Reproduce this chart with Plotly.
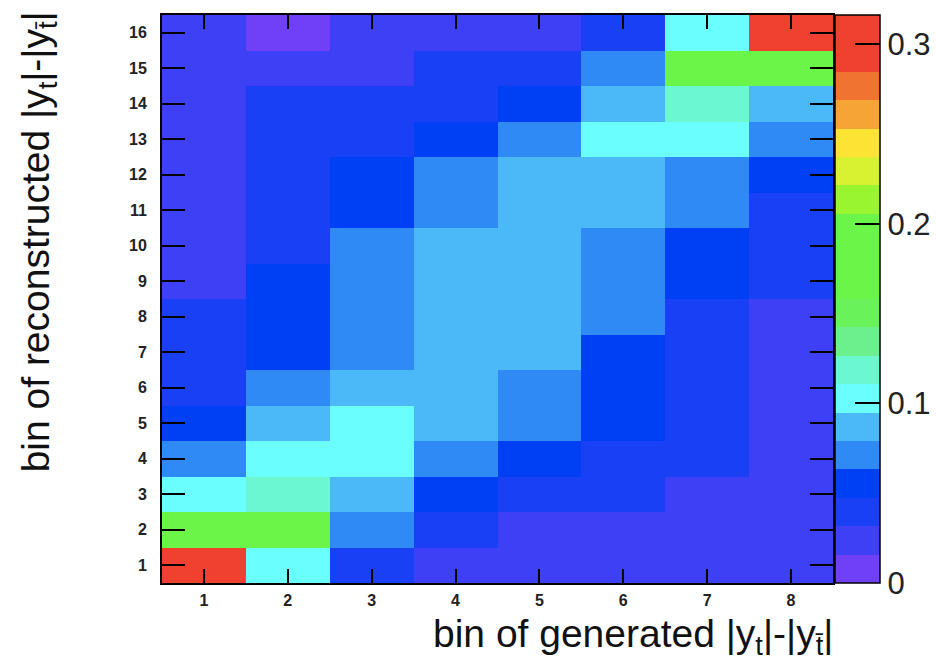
import plotly.graph_objects as go

# generated bins (columns) and reconstructed bins (rows)
gen_bins = [1, 2, 3, 4, 5, 6, 7, 8]
reco_bins = list(range(1, 17))

# response values, one list per reconstructed bin (row 1 = bottom), columns = generated bins 1..8
row_01 = [0.310, 0.103, 0.040, 0.024, 0.024, 0.024, 0.024, 0.024]
row_02 = [0.182, 0.182, 0.071, 0.040, 0.024, 0.024, 0.024, 0.024]
row_03 = [0.103, 0.119, 0.087, 0.055, 0.040, 0.040, 0.024, 0.024]
row_04 = [0.071, 0.103, 0.103, 0.071, 0.055, 0.040, 0.040, 0.024]
row_05 = [0.055, 0.087, 0.103, 0.087, 0.071, 0.055, 0.040, 0.024]
row_06 = [0.040, 0.071, 0.087, 0.087, 0.071, 0.055, 0.040, 0.024]
row_07 = [0.040, 0.055, 0.071, 0.087, 0.087, 0.055, 0.040, 0.024]
row_08 = [0.040, 0.055, 0.071, 0.087, 0.087, 0.071, 0.040, 0.024]
row_09 = [0.024, 0.055, 0.071, 0.087, 0.087, 0.071, 0.055, 0.040]
row_10 = [0.024, 0.040, 0.071, 0.087, 0.087, 0.071, 0.055, 0.040]
row_11 = [0.024, 0.040, 0.055, 0.071, 0.087, 0.087, 0.071, 0.040]
row_12 = [0.024, 0.040, 0.055, 0.071, 0.087, 0.087, 0.071, 0.055]
row_13 = [0.024, 0.040, 0.040, 0.055, 0.071, 0.103, 0.103, 0.071]
row_14 = [0.024, 0.040, 0.040, 0.040, 0.055, 0.087, 0.119, 0.087]
row_15 = [0.024, 0.024, 0.024, 0.040, 0.040, 0.071, 0.182, 0.182]
row_16 = [0.024, 0.008, 0.024, 0.024, 0.024, 0.040, 0.103, 0.310]

z = [row_01, row_02, row_03, row_04, row_05, row_06, row_07, row_08,
     row_09, row_10, row_11, row_12, row_13, row_14, row_15, row_16]

z_max = 0.3164
cbar_ticks = [0, 0.1, 0.2, 0.3]
cbar_labels = ["0", "0.1", "0.2", "0.3"]

# 20-level palette (bottom to top)
palette = ["#6f40f8", "#3d40f5", "#1a40f5", "#0040f5", "#2f8af5",
           "#4bb9f8", "#6afffe", "#6bf7cf", "#6bf08d", "#69f25a",
           "#6af548", "#6af548", "#6af548", "#99f530", "#d8f232",
           "#fde434", "#f5a535", "#f07332", "#f04030", "#f04030"]

n = len(palette)
colorscale = []
for i, c in enumerate(palette):
    colorscale.append([i / n, c])
    colorscale.append([(i + 1) / n, c])

FONT = "Liberation Sans, Arial, Helvetica, sans-serif"

fig = go.Figure(go.Heatmap(
    x=gen_bins, y=reco_bins, z=z,
    zmin=0, zmax=z_max,
    colorscale=colorscale,
    xgap=0, ygap=0,
    colorbar=dict(
        x=1.003, xanchor="left", xpad=0,
        y=0.5, yanchor="middle", ypad=0,
        len=1, lenmode="fraction",
        thickness=45, thicknessmode="pixels",
        outlinecolor="black", outlinewidth=1.5,
        ticks="inside", ticklen=25, tickwidth=2, tickcolor="black",
        tickvals=cbar_ticks, ticktext=cbar_labels,
        tickfont=dict(family=FONT, size=31, color="#222"),
    ),
))

fig.update_xaxes(
    range=[0.5, 8.5], tickvals=gen_bins, ticktext=[str(v) for v in gen_bins],
    ticks="inside", ticklen=14, tickwidth=2, tickcolor="black",
    showline=True, linecolor="black", linewidth=2, mirror="ticks",
    showgrid=False, zeroline=False, ticklabelstandoff=2,
    tickfont=dict(family=FONT, size=16, color="#222", weight="bold"),
)
fig.update_yaxes(
    range=[0.5, 16.5], tickvals=reco_bins, ticktext=[str(v) for v in reco_bins],
    ticks="inside", ticklen=23, tickwidth=2, tickcolor="black",
    showline=True, linecolor="black", linewidth=2, mirror="ticks",
    showgrid=False, zeroline=False, ticklabelstandoff=10,
    tickfont=dict(family=FONT, size=16, color="#222", weight="bold"),
)

fig.update_layout(
    width=936, height=667,
    margin=dict(l=162, r=103, t=15, b=84, autoexpand=False),
    paper_bgcolor="white", plot_bgcolor="white",
    font=dict(family=FONT),
    annotations=[
        dict(text="bin of generated |y<sub>t</sub>|-|y<sub>t̄</sub>|",
             xref="paper", yref="paper", x=1.003, y=-0.048,
             xanchor="right", yanchor="top", showarrow=False,
             font=dict(family=FONT, size=39, color="#111")),
        dict(text="bin of reconstructed |y<sub>t</sub>|-|y<sub>t̄</sub>|",
             xref="paper", yref="paper", x=-0.184, y=1.01,
             xanchor="center", yanchor="top", textangle=-90, showarrow=False,
             font=dict(family=FONT, size=39, color="#111")),
    ],
)

fig.write_html("out.html")
